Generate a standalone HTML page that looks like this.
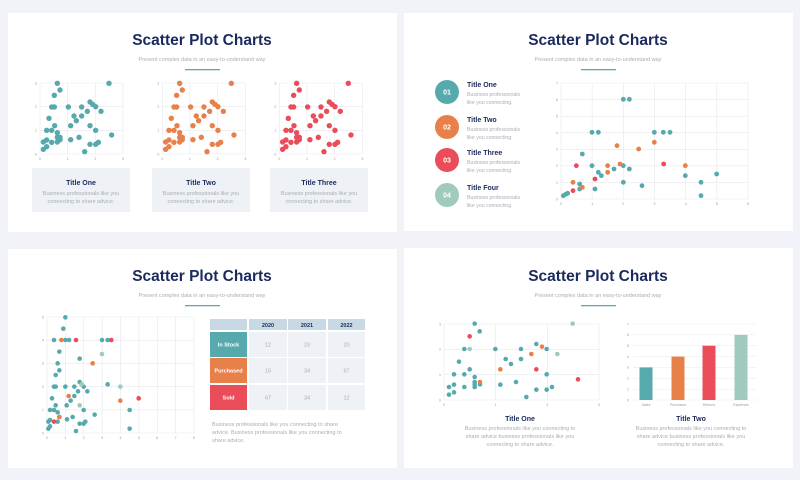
<!DOCTYPE html>
<html><head><meta charset="utf-8"><style>
html,body{margin:0;padding:0;background:#f1f3f8;}
svg{display:block;font-family:"Liberation Sans",sans-serif;}
</style></head><body>
<svg id="s" width="800" height="480" viewBox="0 0 800 480" xmlns="http://www.w3.org/2000/svg">
<rect width="800" height="480" fill="#f1f3f8"/>
<rect x="8" y="13" width="389" height="219" fill="#fff"/>
<rect x="404" y="13" width="389" height="218" fill="#fff"/>
<rect x="8" y="249" width="389" height="219" fill="#fff"/>
<rect x="404" y="248" width="389" height="220" fill="#fff"/>
<g id="g"></g>
</svg>
<script>
var NS="http://www.w3.org/2000/svg",g=document.getElementById('g');
function el(t,a,txt){var e=document.createElementNS(NS,t);for(var k in a)e.setAttribute(k,a[k]);if(txt!==undefined)e.textContent=txt;g.appendChild(e);return e;}
var T='#56a9ad',O='#e8804a',R='#ea4c5a',S='#9fcabd',N='#1b2a5e',GR='#a9adb5';
function txt(x,y,s,size,fill,bold,anchor){el('text',{x:x,y:y,'font-size':size,fill:fill,'font-weight':bold?'bold':'normal','text-anchor':anchor||'middle'},s);}
function header(cx,ty){txt(cx,ty,'Scatter Plot Charts',15.5,N,true);txt(cx,ty+16,'Present complex data in an easy-to-understand way',5.5,GR,false);el('rect',{x:cx-17,y:ty+24,width:35,height:1.3,fill:'#5aabb0'});}
function grid(x0,y0,x1,y1,nx,ny,fs){for(var i=0;i<=nx;i++){var x=x0+(x1-x0)*i/nx;el('line',{x1:x,y1:y0,x2:x,y2:y1,stroke:'#e6e8ec','stroke-width':0.6});txt(x,y1+6,i,3.5,'#999');}
for(var j=0;j<=ny;j++){var y=y1-(y1-y0)*j/ny;el('line',{x1:x0,y1:y,x2:x1,y2:y,stroke:'#e6e8ec','stroke-width':0.6});txt(x0-4,y+1.3,j,3.5,'#999');}}
function dots(pts,dx,dy,c,r){pts.forEach(function(p){el('circle',{cx:dx+p[0]/3,cy:dy+p[1]/3,r:r||2.7,fill:c});});}
// Slide 1
header(202,45);
var p1=[[172,250],[327,250],[180,270],[163,286],[155,321],[163,321],[205,321],[245,321],[270,306],[278,313],[287,320],[303,334],[222,348],[245,348],[262,334],[147,355],[229,362],[212,377],[270,377],[164,377],[140,391],[155,391],[172,398],[287,391],[335,405],[237,412],[212,419],[130,426],[140,420],[155,427],[172,412],[180,412],[172,426],[180,419],[270,433],[287,433],[295,427],[140,440],[130,448],[254,455]];
[[0,T],[122.3,O],[239.3,R]].forEach(function(c){var ox=c[0];grid(40+ox,83,123+ox,154,3,3);dots(p1,ox,0,c[1],2.7);});
[[32,'Title One'],[152,'Title Two'],[270,'Title Three']].forEach(function(b){el('rect',{x:b[0],y:168,width:98,height:44,fill:'#eef2f6'});txt(b[0]+49,185,b[1],7,N,true);txt(b[0]+49,195,'Business professionals like you',5.5,GR);txt(b[0]+49,203,'connecting to share advice.',5.5,GR);});
// Slide 2
header(598,45);
[[92,T,'01','Title One'],[127,O,'02','Title Two'],[160,R,'03','Title Three'],[195,S,'04','Title Four']].forEach(function(c){el('circle',{cx:447,cy:c[0],r:12,fill:c[1]});txt(447,c[0]+2.5,c[2],7,'#fff',true);txt(467,c[0]-5,c[3],7,N,true,'start');txt(467,c[0]+4,'Business professionals',5.2,GR,false,'start');txt(467,c[0]+12,'like you connecting.',5.2,GR,false,'start');});
grid(561,83,748,199,6,7);
dots([[670,298],[688,298],[576,397],[595,397],[763,397],[790,397],[810,397],[547,462],[576,497],[670,497],[688,507],[595,517],[604,527],[642,507],[539,552],[539,567],[585,567],[670,547],[726,557],[856,527],[903,547],[950,522],[903,587],[490,587],[497,583],[503,580]],400,0,T,2.4);
dots([[651,437],[716,447],[763,427],[623,497],[660,492],[623,517],[856,497],[519,547],[547,562]],400,0,O,2.4);
dots([[529,497],[791,492],[585,537],[519,572]],400,0,R,2.4);
// Slide 3
header(202,281);
grid(47,317,194,433,8,5);
dots([[196,232],[190,266],[162,300],[196,300],[207,300],[306,300],[323,300],[178,335],[239,356],[173,370],[178,391],[167,405],[162,440],[167,440],[196,440],[223,440],[239,426],[245,433],[251,440],[262,454],[234,454],[223,468],[212,482],[156,475],[167,496],[150,510],[162,510],[200,496],[251,510],[173,517],[178,531],[173,545],[145,545],[150,540],[218,531],[201,538],[284,524],[239,551],[251,551],[256,545],[228,573],[145,566],[150,559],[323,433],[389,510],[389,566]],0,240,T,2.3);
dots([[306,342],[361,440],[239,496],[245,433]],0,240,S,2.3);
dots([[184,300],[278,370],[206,468],[361,482],[178,531]],0,240,O,2.3);
dots([[228,300],[334,300],[416,475],[162,545]],0,240,R,2.3);
var cx=[210,249,288,328],cw=[37,38,38,37];
el('rect',{x:210,y:319,width:37,height:11,fill:'#c9d9e3'});
['2020','2021','2022'].forEach(function(s,i){el('rect',{x:cx[i+1],y:319,width:cw[i+1],height:11,fill:'#c9d9e3'});txt(cx[i+1]+cw[i+1]/2,327,s,5.5,N,true);});
[[332,T,'In Stock',['12','23','20']],[358,O,'Purchased',['15','34','67']],[385,R,'Sold',['67','34','12']]].forEach(function(r){el('rect',{x:210,y:r[0],width:37,height:25,fill:r[1]});txt(228.5,r[0]+14.5,r[2],5.5,'#fff',true);r[3].forEach(function(v,i){el('rect',{x:cx[i+1],y:r[0],width:cw[i+1],height:25,fill:'#eef2f6'});txt(cx[i+1]+cw[i+1]/2,r[0]+14.5,v,5.5,GR);});});
txt(212,426,'Business professionals like you connecting to share',5.5,GR,false,'start');
txt(212,434,'advice. Business professionals like you connecting to',5.5,GR,false,'start');
txt(212,442,'share advice.',5.5,GR,false,'start');
// Slide 4
header(598,281);
grid(444,324,599,400,3,3);
dots([[224,251],[239,274],[193,327],[286,327],[363,327],[409,312],[440,327],[177,365],[317,357],[333,372],[363,357],[209,388],[162,403],[193,403],[224,411],[224,426],[224,433],[240,433],[224,441],[193,441],[147,441],[162,434],[162,457],[147,464],[301,434],[348,426],[379,471],[409,449],[440,449],[456,441],[440,403]],400,240,T,2.3);
dots([[518,251],[209,327],[472,342]],400,240,S,2.3);
dots([[426,320],[394,342],[301,388],[240,426]],400,240,O,2.3);
dots([[209,289],[409,388],[534,418]],400,240,R,2.3);
for(var j=0;j<=7;j++){var y=400-76*j/7;el('line',{x1:633,y1:y,x2:756,y2:y,stroke:'#eceef1','stroke-width':0.6});txt(628,y+1.3,j,3.5,'#999');}
[[646,3,T,'Sales'],[678,4,O,'Purchases'],[709,5,R,'Returns'],[741,6,S,'Expenses']].forEach(function(b){var h=b[1]*76/7;el('rect',{x:b[0]-6.5,y:400-h,width:13,height:h,fill:b[2]});txt(b[0],406,b[3],3.5,'#999');});
[[520,'Title One'],[691,'Title Two']].forEach(function(t){txt(t[0],421,t[1],7,N,true);txt(t[0],430,'Business professionals like you connecting to',5.5,GR);txt(t[0],438,'share advice business professionals like you',5.5,GR);txt(t[0],446,'connecting to share advice.',5.5,GR);});
</script>
</body></html>
